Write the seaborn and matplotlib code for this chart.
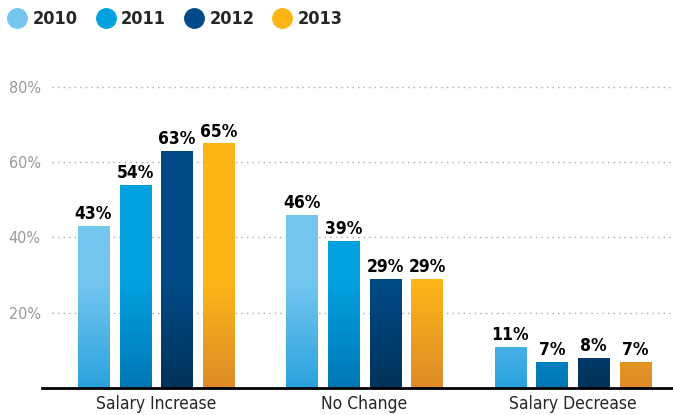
import numpy as np
import pandas as pd
import matplotlib
matplotlib.use('Agg')
import matplotlib.pyplot as plt
import matplotlib.colors as mcolors
from matplotlib.lines import Line2D
import seaborn as sns

# data
categories = ['Salary Increase', 'No Change', 'Salary Decrease']
years = ['2010', '2011', '2012', '2013']
vals_2010 = [43, 46, 11]
vals_2011 = [54, 39, 7]
vals_2012 = [63, 29, 8]
vals_2013 = [65, 29, 7]
y_ticks = [20, 40, 60, 80]

top_colors = ['#74C6F0', '#00A1DE', '#004B87', '#FBB616']
bottom_colors = ['#2AA2DE', '#0077B7', '#00325A', '#DD8B28']

df = pd.DataFrame({
    'category': categories * 4,
    'year': [y for y in years for _ in categories],
    'value': vals_2010 + vals_2011 + vals_2012 + vals_2013,
})

sns.set_style('white')
plt.rcParams['font.family'] = ['DejaVu Sans']
plt.rcParams['font.stretch'] = 'condensed'

fig = plt.figure(figsize=(6.73, 4.15), dpi=100)
ax = fig.add_axes([42/673, 27/415, 631/673, 320/415])

sns.barplot(data=df, x='category', y='value', hue='year', order=categories,
            hue_order=years, palette=top_colors, width=0.8, gap=0.25,
            saturation=1, legend=False, linewidth=0, ax=ax)

ymax = 85
grad_top = 28
# gradient image filling each bar: flat colour on top, darker towards the base
ys = np.linspace(0, ymax, 400)
t = np.clip(ys / grad_top, 0, 1)[:, None]
for i, cont in enumerate(ax.containers):
    c_top = np.array(mcolors.to_rgb(top_colors[i]))
    c_bot = np.array(mcolors.to_rgb(bottom_colors[i]))
    img = (c_bot * (1 - t) + c_top * t)[:, None, :]
    for bar in cont:
        x0 = bar.get_x()
        w = bar.get_width()
        im = ax.imshow(img, extent=[x0, x0 + w, 0, ymax], origin='lower',
                       aspect='auto', interpolation='bilinear',
                       zorder=bar.get_zorder() + 0.1)
        im.set_clip_path(bar)
    ax.bar_label(cont, labels=[f'{v:.0f}%' for v in cont.datavalues],
                 padding=2, fontsize=12.5, color='black', fontweight='bold')

ax.set_xlim(-0.547, 2.48)
ax.set_ylim(0, ymax)

# dotted gridlines
for yt in y_ticks:
    ax.axhline(yt, xmin=10/631, xmax=1, color='#aaaaaa', linestyle=(0, (1, 3)),
               linewidth=1, zorder=0)

ax.set_yticks(y_ticks)
ax.set_yticklabels([f'{v}%' for v in y_ticks])
ax.tick_params(axis='y', length=0, pad=1, labelsize=11.5, labelcolor='#999999')
ax.set_xticks(range(len(categories)))
ax.set_xticklabels(categories, fontweight='medium')
ax.tick_params(axis='x', which='major', length=0, pad=5, labelsize=12.5)
ax.set_xticks([-0.545, 0.22, 0.99], minor=True)
ax.tick_params(axis='x', which='minor', direction='in', length=6, width=1.5,
               color='black')
ax.set_xlabel('')
ax.set_ylabel('')

for s in ['top', 'right', 'left']:
    ax.spines[s].set_visible(False)
ax.spines['bottom'].set_linewidth(2)
ax.spines['bottom'].set_color('black')

handles = [Line2D([], [], marker='o', linestyle='', markersize=14,
                  markerfacecolor=c, markeredgecolor=c) for c in top_colors]
leg = fig.legend(handles, years, loc='upper left', bbox_to_anchor=(-0.009, 1.006),
                 ncol=4, frameon=False, handletextpad=0.25,
                 columnspacing=0.95, handlelength=1.2, borderaxespad=0.3,
                 prop={'weight': 'bold', 'size': 13})

fig.savefig('out.png', dpi=100)
